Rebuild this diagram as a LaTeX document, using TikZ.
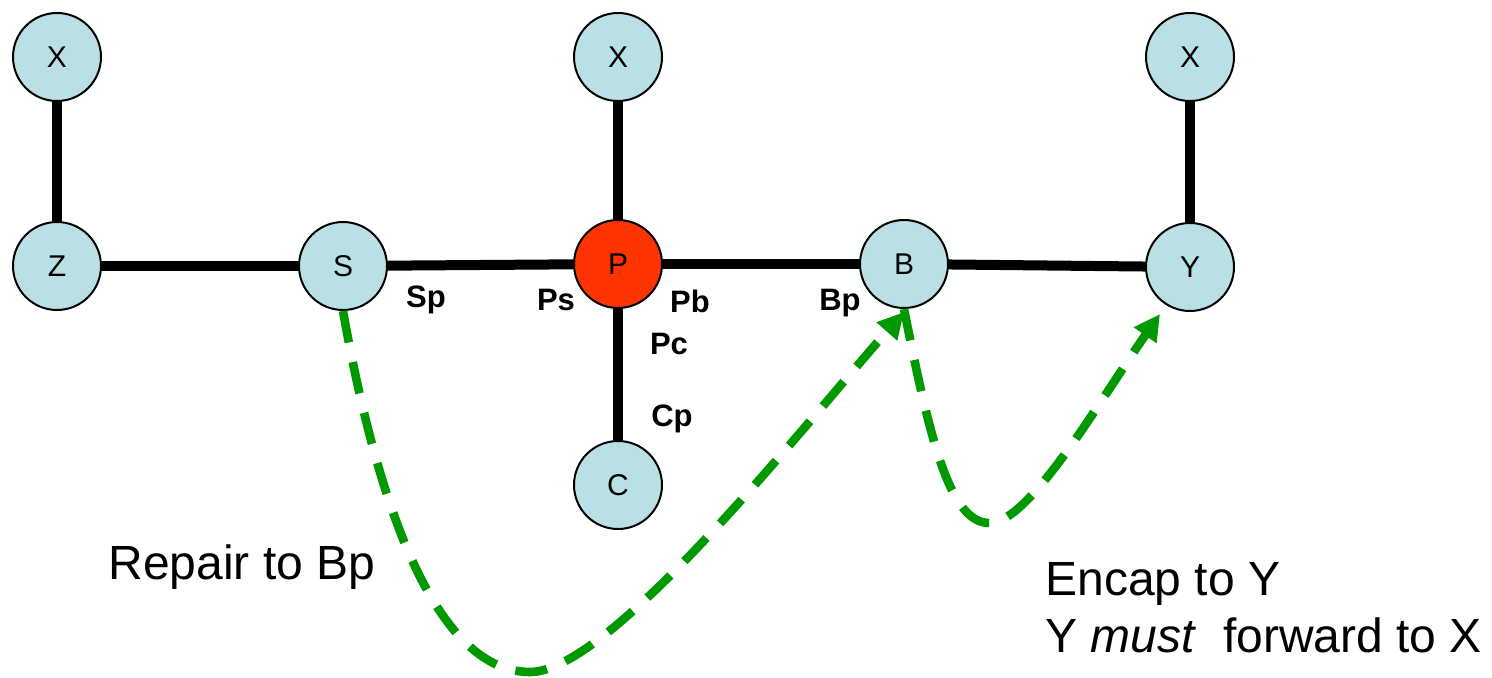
\documentclass[tikz,border=0pt]{standalone}
\usepackage{fontspec}
\setmainfont{Liberation Sans}
\usetikzlibrary{arrows.meta}
\definecolor{nodeblue}{RGB}{185,224,228}
\definecolor{pred}{RGB}{255,51,0}
\definecolor{dgreen}{RGB}{0,153,0}
\begin{document}
\begin{tikzpicture}[x=0.5pt,y=-0.5pt,
  nd/.style={circle,draw=black,line width=1pt,fill=nodeblue,minimum size=44pt,inner sep=0pt,font=\fontsize{15}{18}\selectfont},
  link/.style={line width=5pt,black},
  lbl/.style={font=\fontsize{15.5}{18}\selectfont\bfseries,inner sep=0pt},
  big/.style={font=\fontsize{24}{28.5}\selectfont,inner sep=0pt},
  gpath/.style={dgreen,line width=4.3pt,dash pattern=on 16pt off 10pt,-{Triangle[length=13pt,width=13pt]}}]
\useasboundingbox (0,0) rectangle (1492,678);
\node[nd] (X1) at (57,57) {X};
\node[nd] (Z) at (57,266) {Z};
\node[nd] (S) at (343,266) {S};
\node[nd,fill=pred] (P) at (618,264) {P};
\node[nd] (X2) at (618,57) {X};
\node[nd] (C) at (618,485) {C};
\node[nd] (B) at (904,264) {B};
\node[nd] (X3) at (1190,57) {X};
\node[nd] (Y) at (1190,267) {Y};
\draw[link] (X1) -- (Z);
\draw[link] (Z) -- (S);
\draw[link] (S) -- (P);
\draw[link] (P) -- (B);
\draw[link] (B) -- (Y);
\draw[link] (X2) -- (P);
\draw[link] (P) -- (C);
\draw[link] (X3) -- (Y);
\node[lbl] (sp) at (426,300) {Sp};
\node[lbl] (ps) at (556,300) {Ps};
\node[lbl] (pb) at (690,301) {Pb};
\node[lbl] (bp) at (840,303) {Bp};
\node[lbl] (pc) at (669,344) {Pc};
\node[lbl] (cp) at (672,419) {Cp};
\node[big,anchor=west] (rep) at (108,567) {Repair to Bp};
\node[big,anchor=west,align=left] (enc) at (1045,608) {Encap to Y\\Y \textit{must}\ \ forward to X};
\coordinate (btip) at (904,312);
\coordinate (ytip) at (1160,314);
\draw[gpath] (S.south) .. controls (380,520) and (440,672) .. (530,672)
  .. controls (610,672) and (800,430) .. (btip);
\draw[gpath] (B.south) .. controls (930,440) and (950,524) .. (990,523)
  .. controls (1030,522) and (1100,400) .. (ytip);
\end{tikzpicture}
\end{document}
